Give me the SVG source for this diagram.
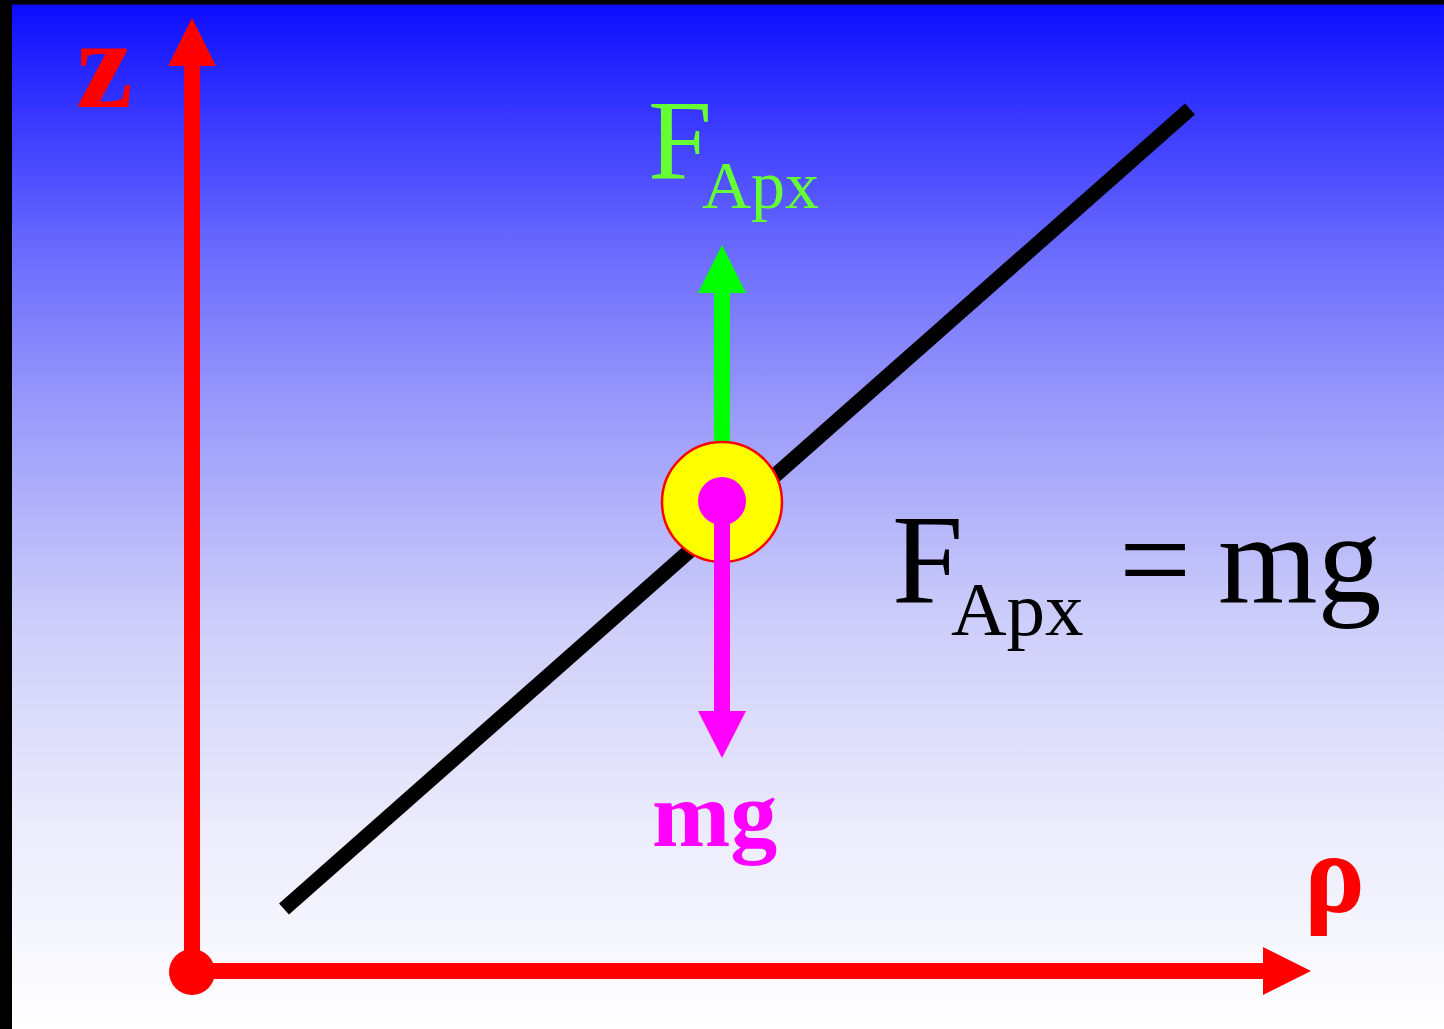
<svg xmlns="http://www.w3.org/2000/svg" width="1444" height="1029" viewBox="0 0 1444 1029">
<defs>
<linearGradient id="bg" x1="0" y1="0" x2="0" y2="1">
<stop offset="0" stop-color="rgb(13,13,255)"/>
<stop offset="0.1" stop-color="rgb(52,52,255)"/>
<stop offset="0.25" stop-color="rgb(110,110,253)"/>
<stop offset="0.4" stop-color="rgb(155,155,250)"/>
<stop offset="0.6" stop-color="rgb(205,205,250)"/>
<stop offset="0.8" stop-color="rgb(235,235,252)"/>
<stop offset="1" stop-color="rgb(255,255,255)"/>
</linearGradient>
<style>
.serif{font-family:"Liberation Serif","Times New Roman",serif}
.axis{stroke:#ff0000;stroke-width:16;fill:none}
.red{fill:#ff0000}
</style>
</defs>
<rect x="0" y="0" width="1444" height="1029" fill="#000"/>
<rect x="12" y="4.5" width="1432" height="1024.5" fill="url(#bg)"/>

<g id="connectors">
<line id="incline" x1="284" y1="909" x2="1190" y2="109" stroke="#000" stroke-width="15"/>
<line class="axis" x1="192" y1="971" x2="192" y2="64"/>
<polygon class="red" points="192,18 168,66 216,66"/>
<line class="axis" x1="192" y1="971" x2="1265" y2="971"/>
<polygon class="red" points="1311,971 1263,947 1263,995"/>
<line x1="722" y1="501" x2="722" y2="288" stroke="#00ff00" stroke-width="16"/>
<polygon fill="#00ff00" points="722,245 698,293 746,293"/>
</g>

<g id="origin"><circle cx="192" cy="972" r="23" class="red"/></g>

<g id="ball">
<circle cx="722" cy="502" r="60" fill="#ffff00" stroke="#ff0000" stroke-width="2.5"/>
</g>

<g id="weight">
<line x1="722" y1="501" x2="722" y2="715" stroke="#ff00ff" stroke-width="16"/>
<polygon fill="#ff00ff" points="722,758 698,711 746,711"/>
<circle cx="722" cy="501" r="24" fill="#ff00ff"/>
</g>

<g id="label-z"><text class="serif" x="76" y="107" font-size="128" font-weight="bold" fill="#ff0000">z</text></g>
<g id="label-rho"><text class="serif" x="1304" y="912" font-size="114" font-weight="bold" fill="#ff0000">ρ</text></g>
<g id="label-fapx">
<text class="serif" x="648" y="179" font-size="115" fill="#66ff33">F</text>
<text class="serif" x="702" y="208" font-size="68" fill="#66ff33">Apx</text>
</g>
<g id="label-mg"><text class="serif" x="652" y="846" font-size="94" font-weight="bold" fill="#ff00ff">mg</text></g>
<g id="equation">
<text class="serif" x="892" y="602" font-size="128" fill="#000">F</text>
<text class="serif" x="951" y="635" font-size="77" fill="#000">Apx</text>
<text class="serif" x="1119" y="602" font-size="128" fill="#000">=</text>
<text class="serif" x="1218" y="602" font-size="128" fill="#000">mg</text>
</g>
</svg>
